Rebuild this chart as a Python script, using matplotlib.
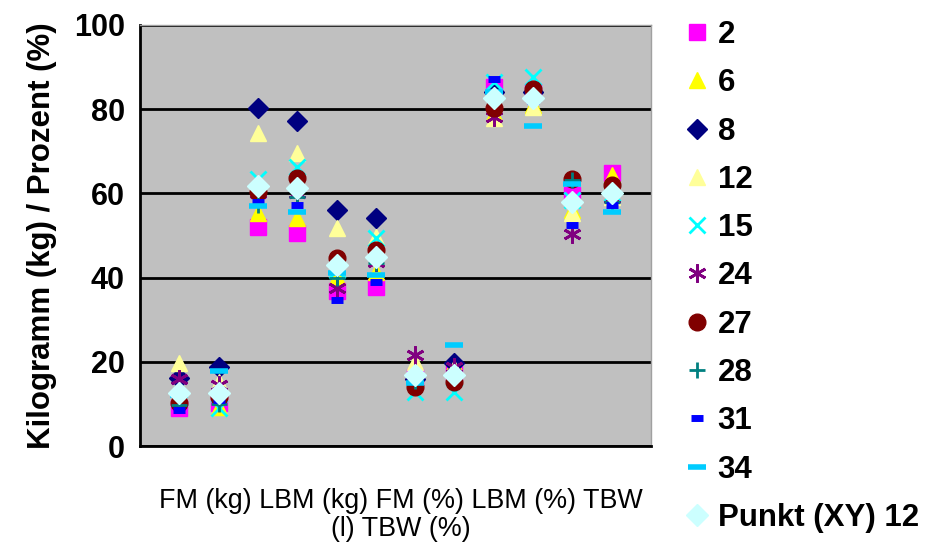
import matplotlib.pyplot as plt

plt.rcParams["font.family"] = ["Liberation Sans", "DejaVu Sans"]

# twelve measurement columns (pre/post pairs of six variables)
positions = list(range(1, 13))
x_text = "FM (kg) LBM (kg) FM (%) LBM (%) TBW\n(l) TBW (%)"

subjects = ["2", "6", "8", "12", "15", "24", "27", "28", "31", "34", "Punkt (XY) 12"]

v2 = [9.0, 10.2, 52.1, 50.5, 36.7, 37.8, 16.5, 17.5, 85.3, 84.0, 59.6, 64.8]
v6 = [14.1, 9.3, 55.3, 54.1, 40.2, 41.4, 17.0, 19.6, 79.0, 81.0, 56.0, 64.4]
v8 = [16.2, 18.8, 80.4, 77.2, 56.1, 54.1, 16.0, 19.6, 84.0, 84.0, 58.0, 60.0]
v12 = [19.6, 15.3, 74.3, 69.5, 51.7, 49.7, 20.0, 18.5, 77.8, 80.6, 55.3, 59.2]
v15 = [11.4, 9.0, 63.5, 66.3, 41.8, 49.3, 12.9, 12.9, 86.5, 87.7, 58.5, 60.0]
v24 = [16.0, 14.5, 60.0, 60.0, 37.5, 43.8, 21.6, 18.8, 78.2, 82.8, 50.4, 58.8]
v27 = [10.2, 11.7, 60.4, 63.7, 44.6, 46.6, 14.1, 15.3, 80.2, 84.9, 63.4, 62.0]
v28 = [9.7, 10.0, 57.2, 59.2, 40.0, 43.4, 15.5, 17.0, 83.0, 83.0, 63.2, 58.0]
v31 = [8.6, 10.9, 57.9, 57.2, 34.7, 39.0, 16.0, 16.5, 87.2, 82.0, 52.5, 57.2]
v34 = [12.0, 17.9, 57.1, 55.5, 41.0, 40.6, 15.0, 24.1, 84.2, 76.1, 62.2, 55.7]
vxy = [12.6, 12.6, 61.8, 61.4, 43.0, 45.0, 16.9, 16.9, 82.6, 82.6, 58.0, 60.0]

series = [v2, v6, v8, v12, v15, v24, v27, v28, v31, v34, vxy]

styles = [
    dict(marker="s", color="#FF00FF", ms=11),
    dict(marker="^", color="#FFFF00", ms=12),
    dict(marker="D", color="#000080", ms=10),
    dict(marker="^", color="#FFFF99", ms=12),
    dict(marker="x", color="#00FFFF", ms=12, mew=2),
    dict(marker=(6, 2, 0), color="#800080", ms=13, mew=2),
    dict(marker="o", color="#800000", ms=12),
    dict(marker="+", color="#008080", ms=12, mew=2),
    dict(marker="_", color="#0000FF", ms=8, mew=5),
    dict(marker="_", color="#00CCFF", ms=13, mew=4),
    dict(marker="D", color="#CCFFFF", ms=11),
]

fig = plt.figure(figsize=(9.27, 5.47), dpi=100)
ax = fig.add_axes([140 / 927, 101 / 547, 511 / 927, 421 / 547])
ax.set_facecolor("#C0C0C0")

handles = []
for name, vals, st in zip(subjects, series, styles):
    h, = ax.plot(positions, vals, linestyle="none", marker=st["marker"],
                 color=st["color"], markersize=st["ms"],
                 markeredgewidth=st.get("mew", 1), label=name, zorder=3)
    handles.append(h)

ax.set_xlim(0, 13)
ax.set_ylim(0, 100)
ax.set_yticks([0, 20, 40, 60, 80, 100])
ax.set_xticks([])
ax.grid(axis="y", color="black", linewidth=2, zorder=1)
ax.set_axisbelow(True)
ax.tick_params(axis="y", labelsize=22, length=0, pad=11)
for lab in ax.get_yticklabels():
    lab.set_fontweight("bold")

for side in ("top", "right"):
    ax.spines[side].set_color("#A0A0A0")
    ax.spines[side].set_linewidth(1)
for side in ("left", "bottom"):
    ax.spines[side].set_color("black")
    ax.spines[side].set_linewidth(2)

ax.set_ylabel("Kilogramm (kg) / Prozent (%)", fontsize=22.5, fontweight="bold", labelpad=12)

fig.text(401 / 927, 1 - 515 / 547, x_text, ha="center", va="center",
         fontsize=19.4, linespacing=1.15)

fig.legend(handles=handles, loc="upper left",
           bbox_to_anchor=(688 / 927, 1 - 20 / 547),
           frameon=False, labelspacing=0.585,
           handlelength=0.6, handletextpad=0.35, borderaxespad=0, borderpad=0,
           prop=dict(weight="bold", size=22.5))

fig.savefig("out.png", dpi=100)
